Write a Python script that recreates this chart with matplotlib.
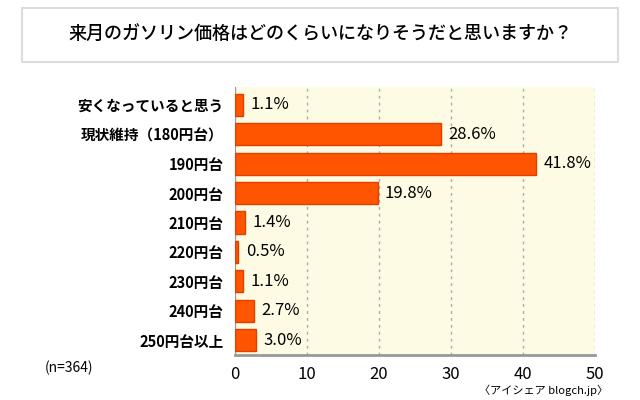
import matplotlib.pyplot as plt
from matplotlib.patches import FancyBboxPatch

plt.rcParams["font.family"] = "Noto Sans CJK JP"

categories = ["安くなっていると思う", "現状維持（180円台）", "190円台", "200円台", "210円台",
              "220円台", "230円台", "240円台", "250円台以上"]
values = [1.1, 28.6, 41.8, 19.8, 1.4, 0.5, 1.1, 2.7, 3.0]
xticks = [0, 10, 20, 30, 40, 50]

fig = plt.figure(figsize=(6.4, 4.0), dpi=100)
fig.patch.set_facecolor("white")

# title box
box = FancyBboxPatch((0.035, 0.845), 0.93, 0.135, boxstyle="square,pad=0",
                     transform=fig.transFigure, facecolor="white",
                     edgecolor="#dddddd", linewidth=1.5)
fig.patches.append(box)
fig.text(0.5, 0.912, "来月のガソリン価格はどのくらいになりそうだと思いますか？",
         ha="center", va="center", fontsize=13, fontweight="medium")

ax = fig.add_axes([0.367, 0.1125, 0.563, 0.67])
ax.set_facecolor("#fdfbe3")
y = list(range(len(categories)))
ax.barh(y, values, height=0.75, color="#ff5500", edgecolor="#e04000", zorder=3)
for yi, v in zip(y, values):
    ax.text(v + 1, yi, f"{v:.1f}%", va="center", ha="left", fontsize=12, zorder=4)

ax.set_ylim(len(categories) - 0.5, -0.6)
ax.set_xlim(0, 50)
ax.set_xticks(xticks)
ax.set_xticklabels([str(t) for t in xticks], fontsize=12)
ax.set_yticks(y)
ax.set_yticklabels(categories, fontsize=10.5, fontweight="bold")
ax.tick_params(length=0, pad=8)
ax.grid(axis="x", linestyle=(0, (2, 3)), color="#aaaaaa", linewidth=1, zorder=1)
for s in ["top", "right"]:
    ax.spines[s].set_visible(False)
ax.spines["left"].set_color("#999999")
ax.spines["bottom"].set_color("#999999")
ax.spines["bottom"].set_linewidth(2)

fig.text(0.07, 0.08, "(n=364)", fontsize=10, va="center")
fig.text(0.95, 0.01, "〈アイシェア blogch.jp〉", fontsize=8, ha="right", va="bottom")

fig.savefig("out.png", dpi=100)
